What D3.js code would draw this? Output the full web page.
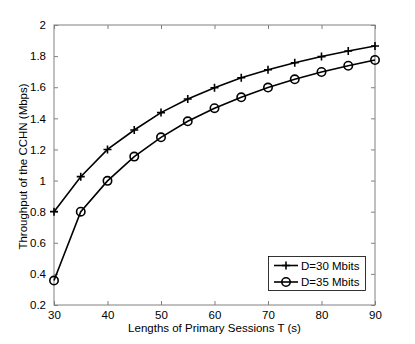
<!DOCTYPE html>
<html>
<head>
<meta charset="utf-8">
<script src="https://cdn.jsdelivr.net/npm/d3@7"></script>
<style>
body { margin: 0; background: #fff; }
svg { display: block; font-family: "Liberation Sans", Arial, sans-serif; }
</style>
</head>
<body>
<svg id="svg" width="415" height="344"></svg>
<script>
var lengths = [30, 35, 40, 45, 50, 55, 60, 65, 70, 75, 80, 85, 90];
var d30 = [0.80, 1.025, 1.20, 1.325, 1.437, 1.524, 1.597, 1.661, 1.712, 1.757, 1.797, 1.833, 1.865];
var d35 = [0.357, 0.80, 0.998, 1.154, 1.278, 1.381, 1.465, 1.535, 1.598, 1.651, 1.698, 1.738, 1.775];
var seriesNames = ["D=30 Mbits", "D=35 Mbits"];
var xTicks = [30, 40, 50, 60, 70, 80, 90];
var yTicks = [0.2, 0.4, 0.6, 0.8, 1, 1.2, 1.4, 1.6, 1.8, 2];

var svg = d3.select("svg");
var plotL = 54, plotT = 25, plotR = 375, plotB = 305;
var axisColor = "#808080";
var fs = "11.5px";

var x = d3.scaleLinear().domain([30, 90]).range([plotL, plotR]);
var y = d3.scaleLinear().domain([0.2, 2]).range([plotB, plotT]);

// box
svg.append("rect")
    .attr("x", plotL).attr("y", plotT)
    .attr("width", plotR - plotL).attr("height", plotB - plotT)
    .attr("fill", "none").attr("stroke", axisColor).attr("stroke-width", 1);

function styleAxis(g) {
    g.select(".domain").remove();
    g.selectAll(".tick line").attr("stroke", axisColor);
    g.selectAll(".tick text").attr("fill", "#000").attr("font-size", fs)
        .attr("font-family", "Liberation Sans, Arial, sans-serif");
}

// inward ticks on all four sides
svg.append("g").attr("transform", "translate(0," + plotB + ")")
    .call(d3.axisBottom(x).tickValues(xTicks).tickSizeInner(-4).tickSizeOuter(0).tickPadding(6).tickFormat(d3.format("d")))
    .call(styleAxis);
svg.append("g").attr("transform", "translate(0," + plotT + ")")
    .call(d3.axisTop(x).tickValues(xTicks).tickSizeInner(-4).tickSizeOuter(0).tickFormat(""))
    .call(styleAxis);
svg.append("g").attr("transform", "translate(" + plotL + ",0)")
    .call(d3.axisLeft(y).tickValues(yTicks).tickSizeInner(-4).tickSizeOuter(0).tickPadding(8).tickFormat(d3.format("")))
    .call(styleAxis);
svg.append("g").attr("transform", "translate(" + plotR + ",0)")
    .call(d3.axisRight(y).tickValues(yTicks).tickSizeInner(-4).tickSizeOuter(0).tickFormat(""))
    .call(styleAxis);

// axis titles
svg.append("text")
    .attr("x", (plotL + plotR) / 2).attr("y", 332)
    .attr("text-anchor", "middle").attr("font-size", fs)
    .text("Lengths of Primary Sessions T (s)");
svg.append("text")
    .attr("transform", "translate(26.5,166.5) rotate(-90)")
    .attr("text-anchor", "middle").attr("font-size", fs)
    .text("Throughput of the CCHN (Mbps)");

var line = d3.line()
    .x(function (d) { return x(d[0]); })
    .y(function (d) { return y(d[1]); });

function plus(g, cx, cy) {
    g.append("path")
        .attr("d", "M" + (cx - 4) + "," + cy + "H" + (cx + 4) + "M" + cx + "," + (cy - 4) + "V" + (cy + 4))
        .attr("stroke", "#000").attr("stroke-width", 1.6).attr("fill", "none");
}
function circ(g, cx, cy) {
    g.append("circle").attr("cx", cx).attr("cy", cy).attr("r", 4.2)
        .attr("stroke", "#000").attr("stroke-width", 1.6).attr("fill", "none");
}

var allSeries = [d30, d35];
var markers = [plus, circ];
allSeries.forEach(function (vals, i) {
    var pts = lengths.map(function (t, j) { return [t, vals[j]]; });
    var g = svg.append("g");
    g.append("path").attr("d", line(pts))
        .attr("fill", "none").attr("stroke", "#000").attr("stroke-width", 1.6);
    pts.forEach(function (p) { markers[i](g, x(p[0]), y(p[1])); });
});

// legend
var lg = svg.append("g");
lg.append("rect").attr("x", 268.5).attr("y", 256.5).attr("width", 97).attr("height", 34)
    .attr("fill", "#fff").attr("stroke", "#000").attr("stroke-width", 0.8);
seriesNames.forEach(function (name, i) {
    var ly = 265.5 + i * 16.5;
    lg.append("line").attr("x1", 274).attr("x2", 298).attr("y1", ly).attr("y2", ly)
        .attr("stroke", "#000").attr("stroke-width", 1.6);
    markers[i](lg, 286, ly);
    lg.append("text").attr("x", 301).attr("y", ly + 4).attr("font-size", fs).text(name);
});
</script>
</body>
</html>
